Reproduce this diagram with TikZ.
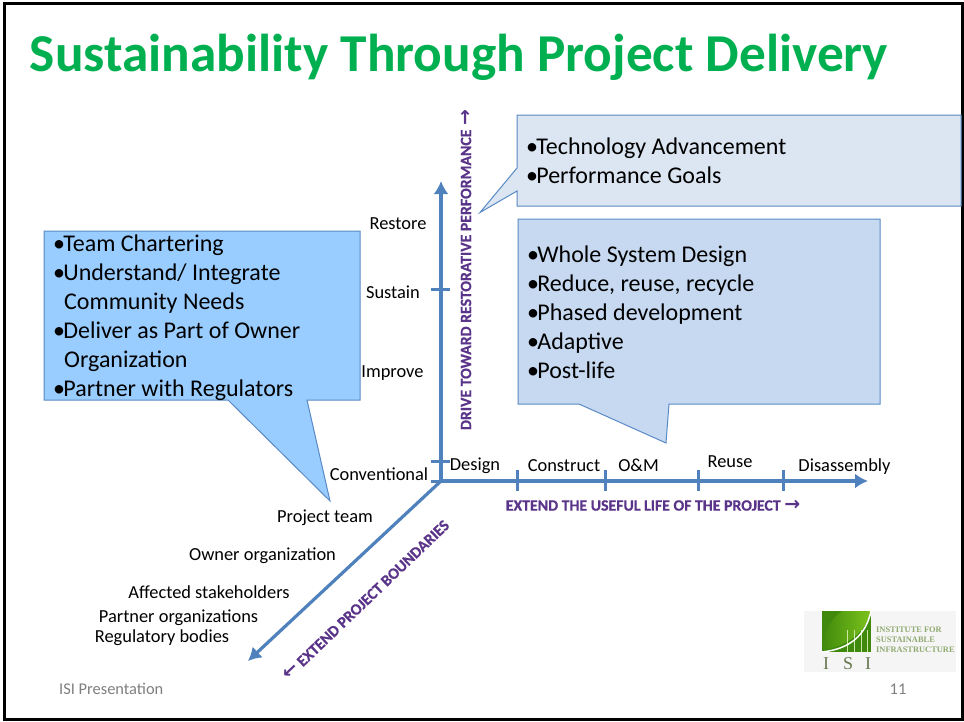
\documentclass[tikz,border=0pt]{standalone}
\usepackage{fontspec}
\setmainfont{Carlito}
\usepackage{tikz}
\usetikzlibrary{arrows.meta}
\newfontfamily\logofont{Liberation Serif}
\newfontfamily\arrowfont{DejaVu Sans Bold}
\newfontfamily\drivefont[BoldFeatures={FakeBold=0.5}]{Carlito}
\definecolor{titlegreen}{HTML}{00B050}
\definecolor{axisblue}{HTML}{4F81BD}
\definecolor{edgeblue}{HTML}{5A8AC6}
\definecolor{paleblue}{HTML}{DCE6F2}
\definecolor{midblue}{HTML}{C6D9F1}
\definecolor{skyblue}{HTML}{99CCFF}
\definecolor{purple}{HTML}{5A3488}
\definecolor{footgrey}{HTML}{7F7F7F}
\definecolor{leafdark}{HTML}{3F8A0C}
\definecolor{leaflight}{HTML}{7DC31C}
\definecolor{logotext}{HTML}{8FAA70}
\newcommand{\bul}{•\kern-1.8pt}
\newcommand{\rarr}{{\arrowfont\fontsize{19}{16}\selectfont→}}
\newcommand{\larr}{{\arrowfont\fontsize{19}{16}\selectfont←}}
\tikzset{
  axis/.style={draw=axisblue, line width=3.2pt, -{Latex[length=13pt,width=15pt]}},
  tick/.style={draw=axisblue, line width=3pt},
  callout/.style={draw=edgeblue, line width=1pt, line join=miter},
  bullets/.style={anchor=north west, align=left, inner sep=0pt, font=\fontsize{24}{29}\selectfont},
  label/.style={inner sep=0pt, font=\fontsize{18.4}{20}\selectfont},
  drive/.style={inner sep=0pt, text=purple, font=\drivefont\fontsize{15.8}{20}\selectfont\bfseries},
  foot/.style={inner sep=0pt, text=footgrey, font=\fontsize{16.4}{18}\selectfont},
  logoline/.style={inner sep=0pt, anchor=west, text=logotext, font=\logofont\fontsize{8.4}{9}\selectfont\bfseries},
  logoletter/.style={inner sep=0pt, text=logotext!70!black, font=\logofont\fontsize{18}{18}\selectfont},
}
\begin{document}
\begin{tikzpicture}[x=1pt,y=-1pt]
  \useasboundingbox (0,0) rectangle (964,721);
  \fill[white] (0,0) rectangle (964,721);
  \draw[black, line width=3pt] (4.5,3.5) -- (962.5,3.5) -- (962.5,719) -- (4.5,719) -- cycle;

  \node[inner sep=0pt, text=titlegreen, font=\fontsize{53.3}{60}\selectfont\bfseries] (title) at (459,57) {Sustainability Through Project Delivery};

  % callouts
  \draw[callout, fill=paleblue] (517,115) -- (961,115) -- (961,206) -- (517,206) -- (517,191)
        -- (480,212.5) -- (517,168) -- cycle;
  \draw[callout, fill=midblue] (518,219) -- (880,219) -- (880,404) -- (669,404)
        -- (666,443) -- (579,404) -- (518,404) -- cycle;
  \draw[callout, fill=skyblue] (44,231) -- (360,231) -- (360,400) -- (307,400)
        -- (330,501) -- (228,400) -- (44,400) -- cycle;

  \node[bullets] (goals) at (526,138) {\bul Technology Advancement\\\bul Performance Goals};
  \node[bullets] (system) at (527,246) {\bul Whole System Design\\\bul Reduce, reuse, recycle\\\bul Phased development\\\bul Adaptive\\\bul Post-life};
  \node[bullets] (team) at (53,235) {\bul Team Chartering\\\bul Understand/ Integrate\\\hspace*{11pt}Community Needs\\\bul Deliver as Part of Owner\\\hspace*{11pt}Organization\\\bul Partner with Regulators};

  % axes
  \coordinate (O) at (441,481);
  \coordinate (top) at (441,181);
  \coordinate (right) at (868,481);
  \coordinate (low) at (248,661);
  \draw[axis] (O) -- (top);
  \draw[axis] (O) -- (right);
  \draw[axis] (O) -- (low);

  \foreach \x in {517,605,698,783}
    \draw[tick] (\x,470) -- (\x,491);
  \draw[tick] (431,289) -- (450,289);
  \draw[tick] (431,461) -- (450,461);
  \draw[tick] (431,481) -- (O);

  % labels
  \node[label] (restore) at (398,223.5) {Restore};
  \node[label] (sustain) at (393,292.5) {Sustain};
  \node[label] (improve) at (392.5,373.5) {Improve};
  \node[label] (conv) at (379,474.5) {Conventional};
  \node[label] (design) at (475,465.5) {Design};
  \node[label] (construct) at (564,465.5) {Construct};
  \node[label] (om) at (638.5,465.5) {O\&M};
  \node[label] (reuse) at (730,461.5) {Reuse};
  \node[label] (disasm) at (844.5,466.5) {Disassembly};
  \node[label] (pteam) at (325,517.5) {Project team};
  \node[label] (owner) at (262.5,555.5) {Owner organization};
  \node[label] (affected) at (209,592.5) {Affected stakeholders};
  \node[label] (partner) at (178.5,617.5) {Partner organizations};
  \node[label] (regbody) at (162,637.5) {Regulatory bodies};

  \node[drive, rotate=90] (drive) at (466,270) {DRIVE TOWARD RESTORATIVE PERFORMANCE \rarr};
  \node[drive] (extend) at (653,505.5) {EXTEND THE USEFUL LIFE OF THE PROJECT \rarr};
  \node[drive, rotate=43.7] (bound) at (366,600) {\larr{} EXTEND PROJECT BOUNDARIES};

  % logo
  \fill[black!4] (804,611) rectangle (956,672);
  \fill[leafdark] (822,611) rectangle (871,652);
  \shade[left color=leafdark, right color=leaflight] (822,650) .. controls (824,630) and (832,618) .. (842,611) -- (871,611)
        .. controls (866,632) and (848,646) .. cycle;
  \foreach \x in {847,854,861,867}
    \draw[white!60!leaflight, line width=0.8pt] (\x,652) -- (\x,630);
  \draw[white, line width=1.5pt] (822,652) .. controls (850,649) and (866,635) .. (871,611);
  \node[logoline] (logoa) at (876,630) {INSTITUTE FOR};
  \node[logoline] (logob) at (876,640) {SUSTAINABLE};
  \node[logoline] (logoc) at (876,649.5) {INFRASTRUCTURE};
  \node[logoletter] (logoi) at (826,664) {I};
  \node[logoletter] (logos) at (848,664) {S};
  \node[logoletter] (logoj) at (868,664) {I};

  % footer
  \node[foot, anchor=west] (isi) at (59,689) {ISI Presentation};
  \node[foot] (page) at (898,689) {11};
\end{tikzpicture}
\end{document}
